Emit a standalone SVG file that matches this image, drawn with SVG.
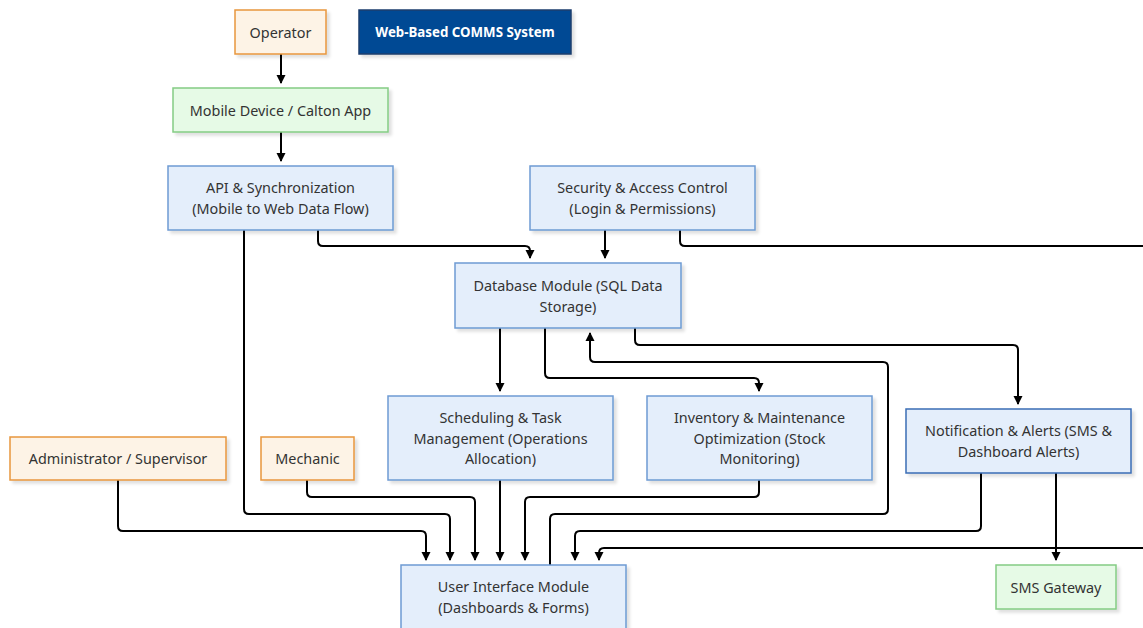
<svg xmlns="http://www.w3.org/2000/svg" width="1143" height="628" viewBox="0 0 1143 628">
  <defs>
    <filter id="shadow" x="-10%" y="-10%" width="130%" height="140%">
      <feDropShadow dx="3" dy="3" stdDeviation="1.5" flood-color="#000" flood-opacity="0.12"/>
    </filter>
    <marker id="arrow" viewBox="0 0 10 10" refX="8.9" refY="5" markerWidth="9" markerHeight="12" markerUnits="userSpaceOnUse" orient="auto">
      <path d="M0,0 L10,5 L0,10 z" fill="#000"/>
    </marker>
  </defs>
  <style>
    .box { stroke-width: 1.5; filter: url(#shadow); }
    .actor { fill: #fdf3e6; stroke: #e8963c; }
    .device { fill: #e6fae6; stroke: #84cc84; }
    .module { fill: #e4eefb; stroke: #6d9bd3; }
    .alert { fill: #e4eefb; stroke: #3b6db5; }
    .title { fill: #004a94; stroke: #1b3c6c; }
    text { font-family: "Noto Sans", "Liberation Sans", sans-serif; font-size: 14.4px; fill: #333; text-anchor: middle; dominant-baseline: central; }
    .title-text { fill: #fff; font-weight: bold; font-size: 13.3px; }
    .edges path { fill: none; stroke: #000; stroke-width: 2; marker-end: url(#arrow); }
  </style>

  <rect width="1143" height="628" fill="#fff"/>

  <!-- connectors -->
  <g class="edges">
    <path d="M281,54 V83"/>
    <path d="M281,132 V161"/>
    <path d="M318,230 V241 Q318,246 323,246 H525 Q530,246 530,251 V258"/>
    <path d="M244,230 V509 Q244,514 249,514 H445 Q450,514 450,519 V560"/>
    <path d="M605,230 V258"/>
    <path d="M680,230 V241 Q680,246 685,246 H1160 V548 H604 Q599,548 599,553 V560"/>
    <path d="M500,328 V391"/>
    <path d="M545,328 V373 Q545,378 550,378 H754 Q759,378 759,383 V391"/>
    <path d="M635,328 V340 Q635,345 640,345 H1013 Q1018,345 1018,350 V404"/>
    <path d="M550,565 V519 Q550,514 555,514 H883 Q888,514 888,509 V367 Q888,362 883,362 H595 Q590,362 590,357 V333"/>
    <path d="M118,480 V526 Q118,531 123,531 H421 Q426,531 426,536 V560"/>
    <path d="M307,480 V492 Q307,497 312,497 H470 Q475,497 475,502 V560"/>
    <path d="M500,480 V560"/>
    <path d="M759,480 V492 Q759,497 754,497 H530 Q525,497 525,502 V560"/>
    <path d="M981,473 V526 Q981,531 976,531 H580 Q575,531 575,536 V560"/>
    <path d="M1056,473 V560"/>
  </g>

  <!-- nodes -->
  <g id="operator">
    <rect class="box actor" x="235" y="10" width="91" height="44"/>
    <text x="280.5" y="32">Operator</text>
  </g>
  <g id="system-title">
    <rect class="box title" x="359" y="10" width="212" height="44"/>
    <text class="title-text" x="465" y="32">Web-Based COMMS System</text>
  </g>
  <g id="mobile">
    <rect class="box device" x="173" y="88" width="215" height="44"/>
    <text x="280.5" y="110">Mobile Device / Calton App</text>
  </g>
  <g id="api">
    <rect class="box module" x="168" y="166" width="225" height="64"/>
    <text x="280.5" y="187.5">API &amp; Synchronization</text>
    <text x="280.5" y="208.5">(Mobile to Web Data Flow)</text>
  </g>
  <g id="security">
    <rect class="box module" x="530" y="166" width="225" height="64"/>
    <text x="642.5" y="187.5">Security &amp; Access Control</text>
    <text x="642.5" y="208.5">(Login &amp; Permissions)</text>
  </g>
  <g id="database">
    <rect class="box module" x="455" y="263" width="226" height="65"/>
    <text x="568" y="285">Database Module (SQL Data</text>
    <text x="568" y="306">Storage)</text>
  </g>
  <g id="scheduling">
    <rect class="box module" x="388" y="396" width="225" height="84"/>
    <text x="500.5" y="417.5">Scheduling &amp; Task</text>
    <text x="500.5" y="438">Management (Operations</text>
    <text x="500.5" y="458.5">Allocation)</text>
  </g>
  <g id="inventory">
    <rect class="box module" x="647" y="396" width="225" height="84"/>
    <text x="759.5" y="417.5">Inventory &amp; Maintenance</text>
    <text x="759.5" y="438">Optimization (Stock</text>
    <text x="759.5" y="458.5">Monitoring)</text>
  </g>
  <g id="notification">
    <rect class="box alert" x="906" y="409" width="225" height="64"/>
    <text x="1018.5" y="430.5">Notification &amp; Alerts (SMS &amp;</text>
    <text x="1018.5" y="451.5">Dashboard Alerts)</text>
  </g>
  <g id="administrator">
    <rect class="box actor" x="10" y="437" width="216" height="43"/>
    <text x="118" y="458.5">Administrator / Supervisor</text>
  </g>
  <g id="mechanic">
    <rect class="box actor" x="261" y="437" width="93" height="43"/>
    <text x="307.5" y="458.5">Mechanic</text>
  </g>
  <g id="user-interface">
    <rect class="box module" x="401" y="565" width="225" height="64"/>
    <text x="513.5" y="586.5">User Interface Module</text>
    <text x="513.5" y="607.5">(Dashboards &amp; Forms)</text>
  </g>
  <g id="sms-gateway">
    <rect class="box device" x="996" y="565" width="120" height="44"/>
    <text x="1056" y="587">SMS Gateway</text>
  </g>
</svg>
